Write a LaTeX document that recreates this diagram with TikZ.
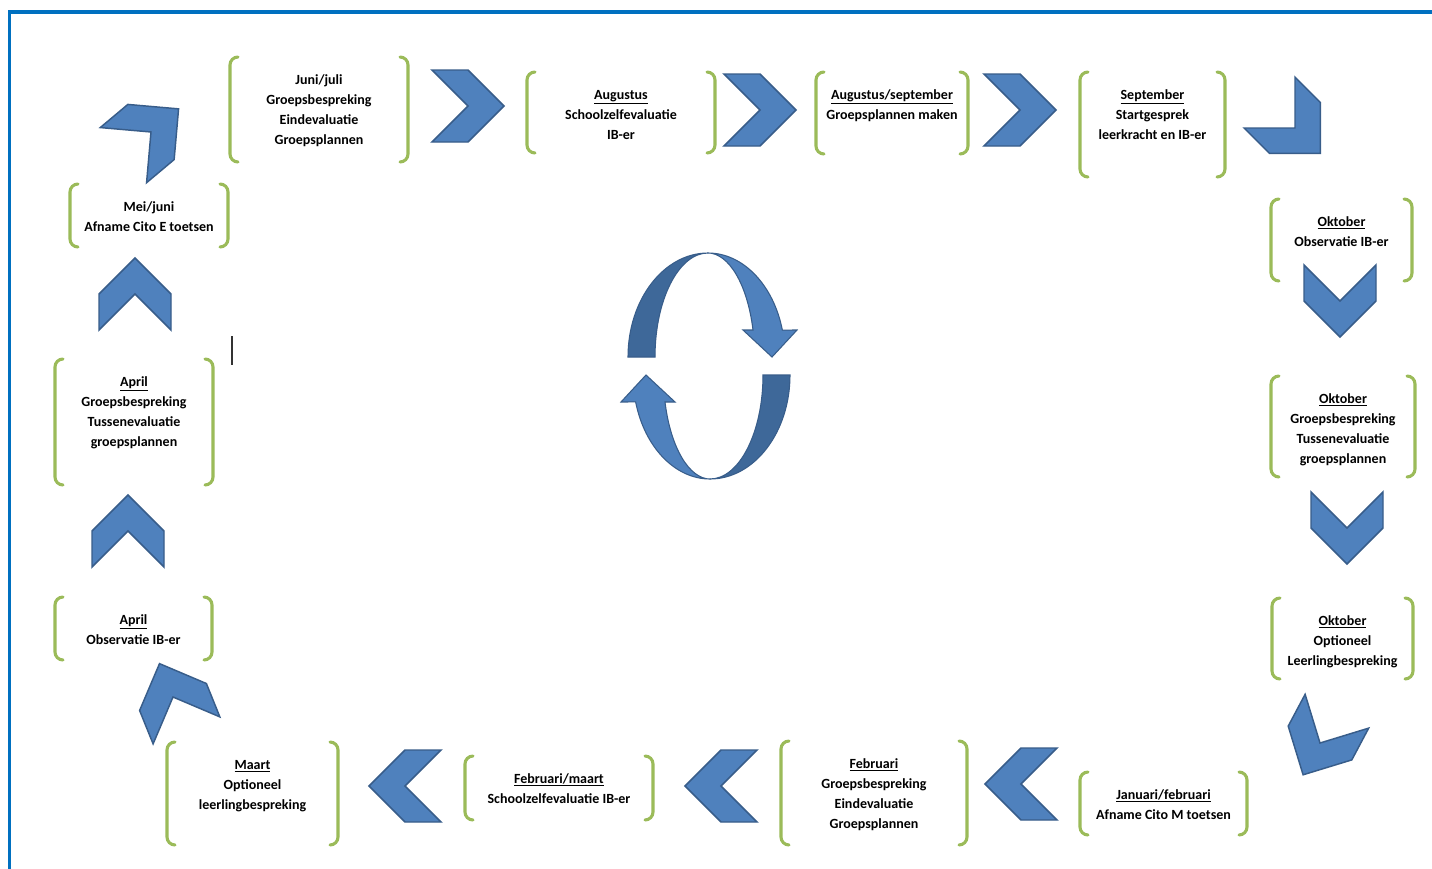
\documentclass[tikz,border=0pt]{standalone}
\usepackage{fontspec}
\setmainfont{Carlito}
\definecolor{kader}{HTML}{0070C0}
\definecolor{groen}{HTML}{9BBB59}
\definecolor{blauw}{HTML}{4F81BD}
\definecolor{rand}{HTML}{385D8A}
\definecolor{donker}{HTML}{3E6899}
\tikzset{
  haak/.style={draw=groen, line width=2.3pt, rounded corners=6pt, line cap=round},
  pijl/.style={fill=blauw, draw=rand, line width=1.1pt, line join=miter},
  tekst/.style={font=\fontsize{10.5}{15}\selectfont\bfseries, inner sep=0pt},
  pics/chevron/.style={code={
    \draw[pijl] (-36,-36) -- (0,-36) -- (36,0) -- (0,36) -- (-36,36) -- (0,0) -- cycle;
  }},
  pics/boog/.style={code={
    \draw[fill=donker, draw=rand, line width=0.8pt] (-81,-9)
      arc[start angle=180, end angle=270, x radius=80, y radius=104]
      arc[start angle=270, end angle=180, x radius=53, y radius=104] -- cycle;
    \draw[pijl, line width=0.8pt] (-1,-113)
      arc[start angle=270, end angle=345, x radius=77, y radius=104]
      -- (88,-36) -- (63,-9) -- (34,-36) -- (44,-36)
      arc[start angle=345, end angle=270, x radius=47, y radius=104] -- cycle;
  }}
}
% #1 links, #2 rechts, #3 boven, #4 onder, #5 naam, #6 tekst
\newcommand\blok[6]{%
  \draw[haak] (#1+8,#3) -- (#1,#3) -- (#1,#4) -- (#1+8,#4);
  \draw[haak] (#2-8,#3) -- (#2,#3) -- (#2,#4) -- (#2-8,#4);
  \node[tekst, anchor=base] (#5) at ({(#1+#2)/2},#3+27) {\parbox[t]{6cm}{\centering #6}};
}
\begin{document}
\begin{tikzpicture}[x=0.75pt, y=-0.75pt]
  \useasboundingbox (0,0) rectangle (1432,868);
  \fill[white] (0,0) rectangle (1432,868);
  \draw[kader, line width=2.6pt] (9.5,900) -- (9.5,12) -- (1460,12);

  % bovenste rij
  \blok{230}{408}{57}{162}{juni}{Juni/juli\\Groepsbespreking\\Eindevaluatie\\Groepsplannen}
  \blok{527}{715}{72}{153}{aug}{\underline{Augustus}\\Schoolzelfevaluatie\\IB-er}
  \blok{816}{968}{72}{154}{augsep}{\underline{Augustus/september}\\Groepsplannen maken}
  \blok{1080}{1225}{72}{177}{sep}{\underline{September}\\Startgesprek\\leerkracht en IB-er}
  % rechts
  \blok{1271}{1412}{199}{281}{okt1}{\underline{Oktober}\\Observatie IB-er}
  \blok{1271}{1415}{376}{477}{okt2}{\underline{Oktober}\\Groepsbespreking\\Tussenevaluatie\\groepsplannen}
  \blok{1272}{1413}{598}{679}{okt3}{\underline{Oktober}\\Optioneel\\Leerlingbespreking}
  % onderste rij
  \blok{1080}{1247}{772}{835}{janfeb}{\underline{Januari/februari}\\Afname Cito M toetsen}
  \blok{781}{967}{741}{845}{feb}{\underline{Februari}\\Groepsbespreking\\Eindevaluatie\\Groepsplannen}
  \blok{465}{653}{756}{820}{febmrt}{\underline{Februari/maart}\\Schoolzelfevaluatie IB-er}
  \blok{167}{338}{742}{845}{mrt}{\underline{Maart}\\Optioneel\\leerlingbespreking}
  % links
  \blok{55}{212}{597}{660}{apr1}{\underline{April}\\Observatie IB-er}
  \blok{55}{213}{359}{485}{apr2}{\underline{April}\\Groepsbespreking\\Tussenevaluatie\\groepsplannen}
  \blok{70}{228}{184}{247}{mei}{Mei/juni\\Afname Cito E toetsen}

  % chevrons
  \pic at (468,106) {chevron};
  \pic at (760,110) {chevron};
  \pic at (1020,110) {chevron};
  \pic[rotate=-45] at (1295,128) {chevron};
  \pic[rotate=-90] at (1340,301) {chevron};
  \pic[rotate=-90] at (1347,528) {chevron};
  \pic[rotate=-118] at (1320,743) {chevron};
  \pic[rotate=180] at (1021,784) {chevron};
  \pic[rotate=180] at (721,786) {chevron};
  \pic[rotate=180] at (405,786) {chevron};
  \pic[rotate=112] at (173,697) {chevron};
  \pic[rotate=90] at (128,531) {chevron};
  \pic[rotate=90] at (135,294) {chevron};
  \pic[rotate=40] at (151,132) {chevron};

  % kringloop in het midden
  \pic at (709,366) {boog};
  \pic[rotate=180] at (709,366) {boog};

  % cursor
  \draw[line width=0.8pt, black!80] (232,336) -- (232,365);
\end{tikzpicture}
\end{document}
